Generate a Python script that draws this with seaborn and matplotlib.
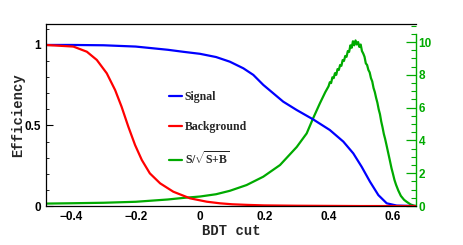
"""BDT cut efficiency scan: signal / background efficiency and S/sqrt(S+B)."""

import matplotlib
matplotlib.use("Agg")
import matplotlib.pyplot as plt
from matplotlib.ticker import MultipleLocator
import seaborn as sns

# values
sig_x = [-0.48, -0.40, -0.30, -0.20, -0.10, -0.05, 0.00, 0.05, 0.093, 0.135, 0.166,
         0.197, 0.228, 0.259, 0.301, 0.352, 0.404, 0.446, 0.477, 0.503, 0.529, 0.555,
         0.581, 0.612, 0.672]
sig_eff = [1.0, 1.0, 0.998, 0.99, 0.97, 0.957, 0.945, 0.925, 0.896, 0.855, 0.814,
           0.752, 0.70, 0.648, 0.596, 0.538, 0.472, 0.40, 0.327, 0.244, 0.151, 0.068,
           0.017, 0.003, 0.0]

bkg_x = [-0.48, -0.394, -0.352, -0.321, -0.29, -0.264, -0.244, -0.223, -0.202, -0.181,
         -0.156, -0.124, -0.083, -0.031, 0.021, 0.062, 0.10, 0.15, 0.20, 0.30, 0.40,
         0.50, 0.672]
bkg_eff = [1.0, 0.99, 0.958, 0.907, 0.824, 0.72, 0.617, 0.493, 0.379, 0.286,
           0.203, 0.141, 0.089, 0.048, 0.027, 0.017, 0.011, 0.007, 0.004, 0.002, 0.001,
           0.0, 0.0]

signif_x = [-0.48, -0.40, -0.30, -0.20, -0.10, -0.05, 0.00, 0.05, 0.093, 0.145, 0.197,
            0.249, 0.301, 0.332, 0.352, 0.373, 0.39,
            0.400, 0.404, 0.408, 0.412, 0.416, 0.420, 0.424, 0.428, 0.432, 0.436,
            0.440, 0.444, 0.448, 0.452, 0.456, 0.460, 0.464, 0.468, 0.472, 0.476,
            0.480, 0.484, 0.488, 0.492, 0.496, 0.500, 0.504, 0.508, 0.512, 0.516,
            0.520, 0.524, 0.528, 0.532, 0.536, 0.540, 0.544, 0.548, 0.552, 0.556,
            0.560, 0.564, 0.568, 0.572, 0.576, 0.580,
            0.585, 0.590, 0.596, 0.600, 0.605, 0.610, 0.617, 0.625, 0.635, 0.643,
            0.655, 0.665, 0.672]
signif = [0.15, 0.17, 0.20, 0.26, 0.40, 0.50, 0.58, 0.72, 0.93, 1.28, 1.79,
          2.50, 3.60, 4.43, 5.35, 6.26, 6.95,
          7.30, 7.55, 7.50, 7.85, 7.80, 8.10, 8.00, 8.35, 8.30, 8.60,
          8.55, 8.90, 8.85, 9.15, 9.10, 9.45, 9.40, 9.80, 9.65, 10.05,
          9.80, 10.10, 9.85, 10.00, 9.70, 9.85, 9.45, 9.30, 9.10, 8.70,
          8.60, 8.30, 8.15, 7.80, 7.60, 7.20, 6.95, 6.60, 6.30, 5.90,
          5.60, 5.15, 4.80, 4.40, 4.10, 3.75,
          3.30, 2.85, 2.30, 2.00, 1.60, 1.30, 0.95, 0.62, 0.38, 0.26,
          0.10, 0.03, 0.0]

BLUE, RED, GREEN = "#0000ff", "#ff0000", "#00aa00"

sns.set_style("white")
plt.rcParams["font.family"] = ["Liberation Sans", "DejaVu Sans"]
plt.rcParams["mathtext.fontset"] = "custom"
plt.rcParams["mathtext.rm"] = "Liberation Serif:bold"
plt.rcParams["mathtext.bf"] = "Liberation Serif:bold"

fig = plt.figure(figsize=(4.63, 2.45), dpi=100)
ax = fig.add_axes([0.0994, 0.159, 0.799, 0.743])
ax2 = ax.twinx()

sns.lineplot(x=sig_x, y=sig_eff, ax=ax, color=BLUE, lw=1.6, label="Signal", legend=False)
sns.lineplot(x=bkg_x, y=bkg_eff, ax=ax, color=RED, lw=1.6, label="Background", legend=False)
sns.lineplot(x=signif_x, y=signif, ax=ax2, color=GREEN, lw=1.6,
             label=r"S/$\sqrt{\mathrm{S{+}B}}$", legend=False)

ax.set_xlim(-0.479, 0.672)
ax.set_ylim(0, 1.13)
ax2.set_ylim(0, 11.1)

# left / bottom frame in ROOT style
ax.xaxis.set_major_locator(MultipleLocator(0.2))
ax.xaxis.set_minor_locator(MultipleLocator(0.05))
ax.yaxis.set_major_locator(MultipleLocator(0.5))
ax.yaxis.set_minor_locator(MultipleLocator(0.1))
ax.yaxis.set_major_formatter(plt.FuncFormatter(lambda v, _: f"{v:g}"))
ax.xaxis.set_major_formatter(plt.FuncFormatter(lambda v, _: f"{v:g}".replace("-", "\u2212")))
ax.tick_params(which="both", direction="in", top=False, right=False, colors="black",
               labelsize=8.5)
ax.tick_params(which="major", length=5, width=0.8)
ax.tick_params(which="minor", length=2.5, width=0.6)
for lab in ax.get_xticklabels() + ax.get_yticklabels():
    lab.set_fontweight("bold")
for side in ["left", "bottom", "top"]:
    ax.spines[side].set_color("black")
    ax.spines[side].set_linewidth(0.9)
ax.spines["right"].set_visible(False)

# green right axis for S/sqrt(S+B)
ax2.yaxis.set_major_locator(MultipleLocator(2))
ax2.yaxis.set_minor_locator(MultipleLocator(0.5))
ax2.tick_params(which="both", direction="in", colors=GREEN, labelsize=8.5, pad=2)
ax2.tick_params(which="major", length=7, width=0.9)
ax2.tick_params(which="minor", length=3.5, width=0.8)
for lab in ax2.get_yticklabels():
    lab.set_fontweight("bold")
for side in ["left", "bottom", "top"]:
    ax2.spines[side].set_visible(False)
ax2.spines["right"].set_color(GREEN)
ax2.spines["right"].set_linewidth(1.0)
ax2.spines["right"].set_bounds(0, 10.5)

ax.set_xlabel("BDT cut", family="Liberation Mono", fontweight="bold", fontsize=10,
              labelpad=1)
ax.set_ylabel("Efficiency", family="Liberation Mono", fontweight="bold", fontsize=10,
              labelpad=0)

handles = ax.get_lines() + ax2.get_lines()
leg = ax.legend(handles, [h.get_label() for h in handles], loc="upper left",
                bbox_to_anchor=(0.303, 0.69), frameon=False, handlelength=1.1,
                handletextpad=0.25, labelspacing=1.5,
                prop={"family": "Liberation Serif", "weight": "bold", "size": 8.5})
ax.set_zorder(ax2.get_zorder() + 1)
ax.patch.set_visible(False)

fig.savefig("out.png", dpi=100)
plt.close(fig)
